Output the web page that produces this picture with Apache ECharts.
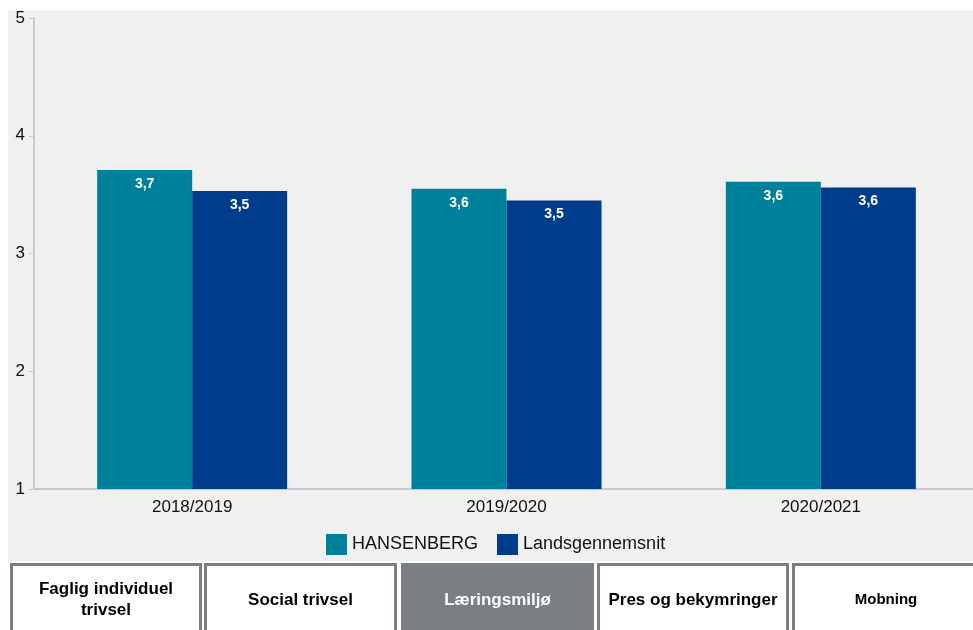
<!DOCTYPE html>
<html>
<head>
<meta charset="utf-8">
<script src="https://cdn.jsdelivr.net/npm/echarts@6/dist/echarts.min.js"></script>
<style>
  html, body { margin: 0; padding: 0; background: #ffffff; }
  #chart { width: 973px; height: 630px; }
</style>
</head>
<body>
<div id="chart"></div>
<script>
const categories = ['2018/2019', '2019/2020', '2020/2021']
const seriesNames = ['HANSENBERG', 'Landsgennemsnit']
const hansenberg = [3.71, 3.55, 3.61]
const landsgennemsnit = [3.53, 3.45, 3.56]
const tabs = ['Faglig individuel\ntrivsel', 'Social trivsel', 'Læringsmiljø', 'Pres og bekymringer', 'Mobning']

const colors = ['#00819b', '#003c8c']
const font = 'Arial, "Liberation Sans", Helvetica, sans-serif'

function fmt(v) {
    return (Math.round(v * 10) / 10).toFixed(1).replace('.', ',')
}

// tab boxes at the bottom: [left, right]
const tabBoxes = [[10, 202], [204, 397], [401, 594], [597, 789], [792, 980]]
const graphics = [{
    type: 'rect',
    z: -10,
    silent: true,
    shape: { x: 8, y: 10, width: 970, height: 551 },
    style: { fill: '#f0f0f0' }
}]
tabBoxes.forEach((b, i) => {
    const active = i === 2
    graphics.push({
        type: 'rect',
        shape: { x: b[0] + 1.5, y: 564.5, width: b[1] - b[0] - 3, height: 80 },
        style: { fill: active ? '#7b7f83' : '#ffffff', stroke: '#7b7f83', lineWidth: 3 }
    })
    graphics.push({
        type: 'text',
        x: (b[0] + b[1]) / 2,
        y: 600,
        style: {
            text: tabs[i],
            fill: active ? '#ffffff' : '#000000',
            font: 'bold ' + (i === 4 ? 15 : 17) + 'px ' + font,
            align: 'center',
            verticalAlign: 'middle',
            lineHeight: 21
        }
    })
})

const chart = echarts.init(document.getElementById('chart'))
const option = {
    animation: false,
    textStyle: { fontFamily: font },
    grid: { left: 35, top: 18, width: 943, height: 471, outerBoundsMode: 'none', containLabel: false },
    legend: {
        data: seriesNames,
        left: 326,
        top: 534,
        padding: 0,
        icon: 'rect',
        itemWidth: 21,
        itemHeight: 21,
        itemGap: 19,
        textStyle: { fontSize: 18, color: '#111111', fontFamily: font }
    },
    xAxis: {
        type: 'category',
        data: categories,
        axisLine: { lineStyle: { color: '#c6cad0', width: 2 } },
        axisTick: { alignWithLabel: true, length: 5, lineStyle: { color: '#c6cad0' } },
        axisLabel: { fontSize: 17, color: '#111111', margin: 10 },
        splitLine: { show: false }
    },
    yAxis: {
        type: 'value',
        min: 1,
        max: 5,
        interval: 1,
        offset: 1,
        axisLine: { show: true, lineStyle: { color: '#c6cad0', width: 2 } },
        axisTick: { show: true, length: 5, lineStyle: { color: '#c6cad0' } },
        axisLabel: { fontSize: 17, color: '#111111', margin: 9 },
        splitLine: { show: false }
    },
    series: [hansenberg, landsgennemsnit].map((d, i) => ({
        name: seriesNames[i],
        type: 'bar',
        data: d,
        barWidth: 95,
        barGap: '0%',
        itemStyle: { color: colors[i] },
        label: {
            show: true,
            position: 'insideTop',
            distance: 7,
            color: '#ffffff',
            fontWeight: 'bold',
            fontSize: 14,
            formatter: p => fmt(p.value)
        }
    })),
    graphic: graphics
}
chart.setOption(option)
</script>
</body>
</html>
